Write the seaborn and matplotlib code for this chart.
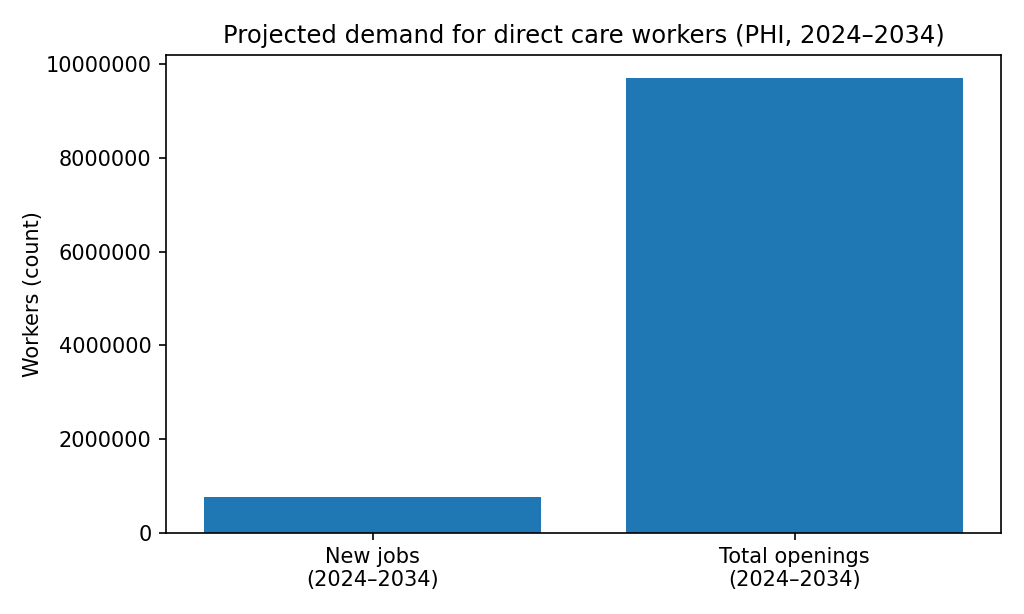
import matplotlib
matplotlib.use("Agg")
import matplotlib.pyplot as plt
import seaborn as sns
import pandas as pd

categories = ["New jobs\n(2024–2034)", "Total openings\n(2024–2034)"]
values = [770000, 9700000]

df = pd.DataFrame({"category": categories, "workers": values})

fig, ax = plt.subplots(figsize=(10.24, 6.14), dpi=100)
sns.barplot(data=df, x="category", y="workers", color="#1f77b4", saturation=1,
            width=0.8, ax=ax)
ax.set_xlim(-0.49, 1.49)
ax.set_title("Projected demand for direct care workers (PHI, 2024–2034)", fontsize=17.5, pad=9)
ax.set_ylabel("Workers (count)", fontsize=15, labelpad=2)
ax.set_xlabel("")
ax.ticklabel_format(axis="y", style="plain", useOffset=False)
ax.tick_params(labelsize=15, length=5.25, width=1.2, pad=5)
for s in ax.spines.values():
    s.set_linewidth(1.2)
plt.subplots_adjust(left=0.162, right=0.978, top=0.91, bottom=0.132)
fig.savefig("out.png", dpi=100)
